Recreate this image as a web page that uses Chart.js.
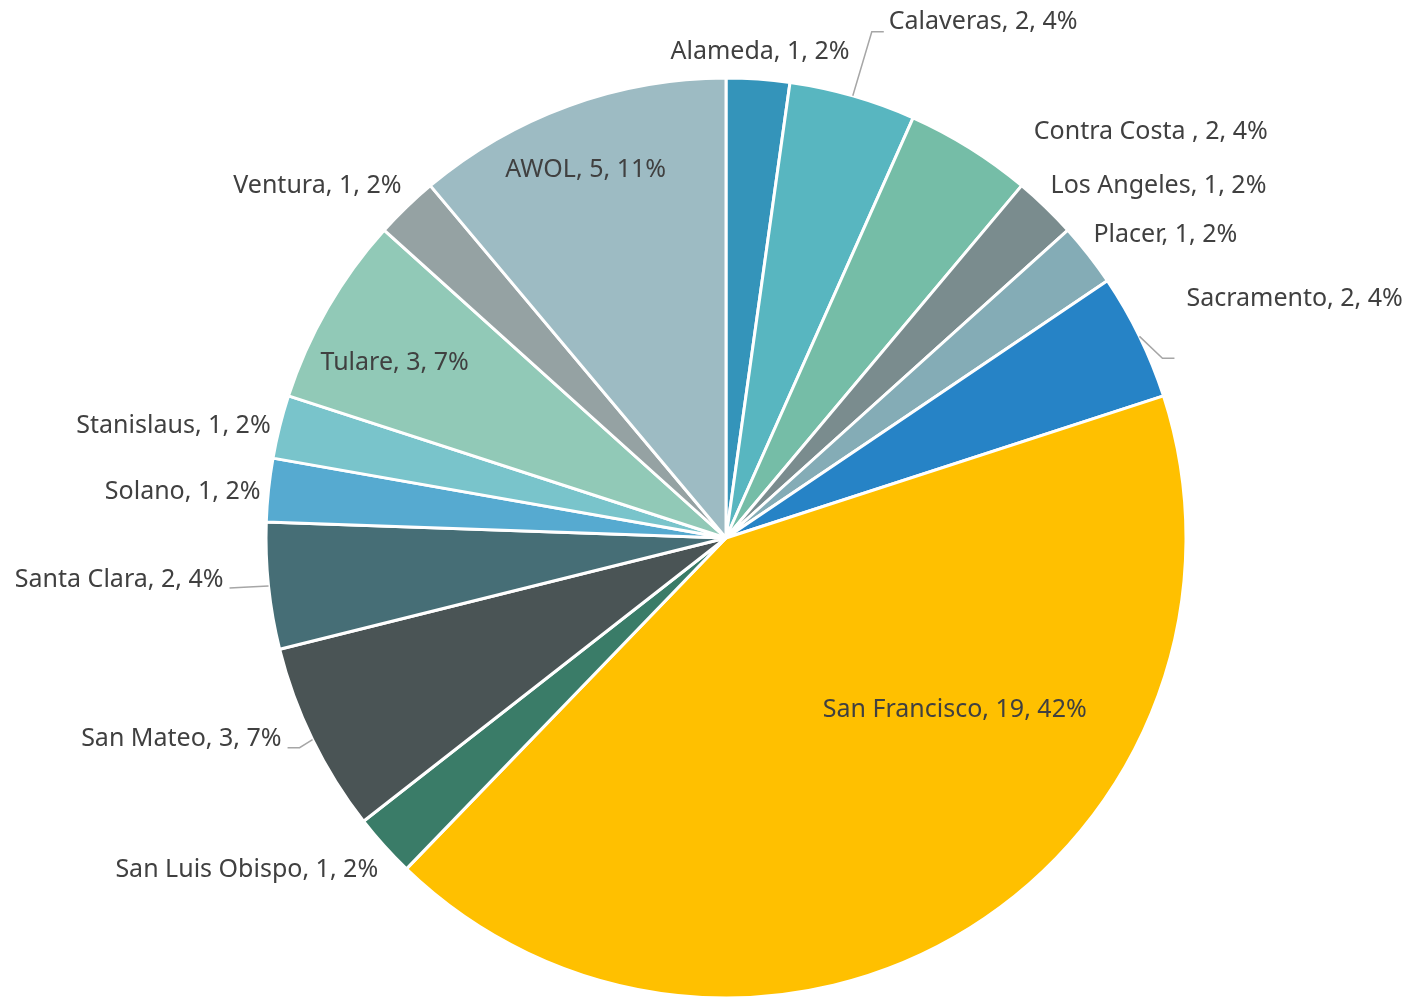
<!DOCTYPE html>
<html>
<head>
<meta charset="utf-8">
<script src="https://cdn.jsdelivr.net/npm/chart.js@4.4.1/dist/chart.umd.min.js"></script>
<style>
  html, body { margin: 0; padding: 0; background: #fff; }
  #wrap { width: 1413px; height: 998px; }
</style>
</head>
<body>
<div id="wrap"><canvas id="myChart"></canvas></div>
<script>
const condados = [
    'Alameda', 'Calaveras', 'Contra Costa ', 'Los Angeles', 'Placer', 'Sacramento',
    'San Francisco', 'San Luis Obispo', 'San Mateo', 'Santa Clara', 'Solano',
    'Stanislaus', 'Tulare', 'Ventura', 'AWOL'
];

const totais = [1, 2, 2, 1, 1, 2, 19, 1, 3, 2, 1, 1, 3, 1, 5];

const cores = [
    '#3494BA', '#58B6C0', '#75BDA7', '#7A8C8E', '#84ACB6', '#2683C6',
    '#FFC000', '#3A7C68', '#4A5455', '#466E76', '#56AAD0',
    '#79C4CB', '#91C9B7', '#95A2A3', '#9DBBC3'
];

// posicao dos rotulos relativa ao ponto medio do arco externo
// [alinhamento, dx, dy, linha guia (opcional)]
const rotulos = [
    ['center', 2, -27],
    ['left', 36, -74, [[19, -64], [31, -64]]],
    ['left', 64, -16],
    ['left', 5, -21],
    ['left', 5, -20],
    ['left', 47, -37, [[23, 22], [35, 22]]],
    ['center', -15, -218],
    ['right', -6, 24],
    ['right', -31, -1, [[-13, 8], [-25, 8]]],
    ['right', -45, -6, [[-20, 1], [-39, 2]]],
    ['right', -8, 2],
    ['right', -9, -1],
    ['center', 67, 55],
    ['right', -5, -21],
    ['center', 17, 64]
];

const total = totais.reduce((a, b) => a + b, 0);

const rotuloPlugin = {
    id: 'rotulos',
    afterDatasetsDraw(chart) {
        const ctx = chart.ctx;
        const meta = chart.getDatasetMeta(0);
        ctx.save();
        ctx.font = '25px "Noto Sans", sans-serif';
        ctx.fillStyle = '#404040';
        ctx.textBaseline = 'middle';
        meta.data.forEach((arc, i) => {
            const p = arc.getProps(['x', 'y', 'startAngle', 'endAngle', 'outerRadius'], true);
            const meio = (p.startAngle + p.endAngle) / 2;
            const bx = p.x + Math.cos(meio) * p.outerRadius;
            const by = p.y + Math.sin(meio) * p.outerRadius;
            const [alinh, dx, dy, guia] = rotulos[i];
            if (guia) {
                ctx.strokeStyle = '#A6A6A6';
                ctx.lineWidth = 1.5;
                ctx.beginPath();
                ctx.moveTo(bx, by);
                guia.forEach(pt => ctx.lineTo(bx + pt[0], by + pt[1]));
                ctx.stroke();
            }
            const pct = Math.round(totais[i] / total * 100);
            ctx.textAlign = alinh;
            ctx.fillText(condados[i] + ', ' + totais[i] + ', ' + pct + '%', bx + dx, by + dy);
        });
        ctx.restore();
    }
};

const config = {
    type: 'pie',
    data: {
        labels: condados,
        datasets: [{
            data: totais,
            backgroundColor: cores,
            borderColor: '#FFFFFF',
            borderWidth: 3
        }]
    },
    options: {
        responsive: true,
        maintainAspectRatio: false,
        animation: false,
        radius: 460,
        layout: {
            padding: { left: 59, right: 20, top: 78, bottom: 0 }
        },
        plugins: {
            legend: { display: false },
            tooltip: { enabled: false }
        }
    },
    plugins: [rotuloPlugin]
};

const myChart = new Chart(document.getElementById('myChart'), config);
</script>
</body>
</html>
